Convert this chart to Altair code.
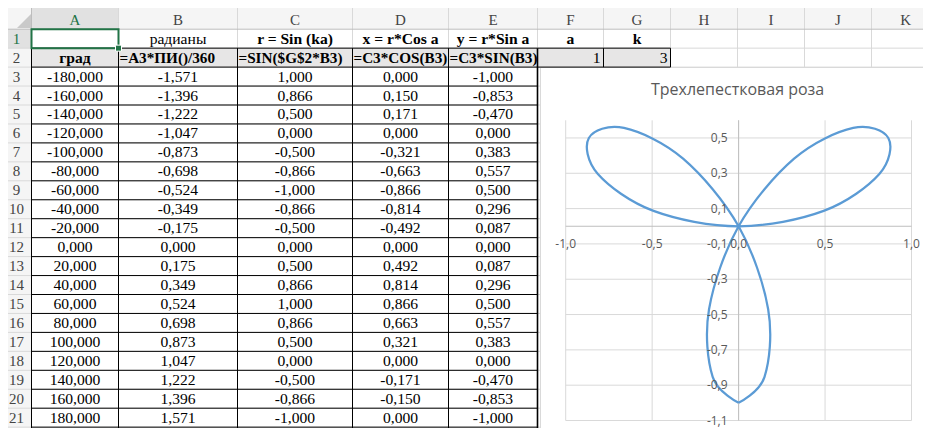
import altair as alt
import pandas as pd

# ---------------- data ----------------
grad = [-180, -160, -140, -120, -100, -80, -60, -40, -20, 0, 20, 40, 60, 80, 100, 120, 140, 160, 180]
radians = [-1.571, -1.396, -1.222, -1.047, -0.873, -0.698, -0.524, -0.349, -0.175, 0.000,
           0.175, 0.349, 0.524, 0.698, 0.873, 1.047, 1.222, 1.396, 1.571]
r_vals = [1.000, 0.866, 0.500, 0.000, -0.500, -0.866, -1.000, -0.866, -0.500, 0.000,
          0.500, 0.866, 1.000, 0.866, 0.500, 0.000, -0.500, -0.866, -1.000]
x_vals = [0.000, 0.150, 0.171, 0.000, -0.321, -0.663, -0.866, -0.814, -0.492, 0.000,
          0.492, 0.814, 0.866, 0.663, 0.321, 0.000, -0.171, -0.150, 0.000]
y_vals = [-1.000, -0.853, -0.470, 0.000, 0.383, 0.557, 0.500, 0.296, 0.087, 0.000,
          0.087, 0.296, 0.500, 0.557, 0.383, 0.000, -0.470, -0.853, -1.000]
param_a = 1
param_k = 3

col_letters = ["A", "B", "C", "D", "E", "F", "G", "H", "I", "J", "K"]
row1_texts = ["", "радианы", "r = Sin (ka)", "x = r*Cos a", "y = r*Sin a", "a", "k"]
row2_texts = ["град", "=A3*ПИ()/360", "=SIN($G$2*B3)", "=C3*COS(B3)", "=C3*SIN(B3)"]
chart_title = "Трехлепестковая роза"
x_ticks = [-1.0, -0.5, 0.0, 0.5, 1.0]
y_ticks = [0.5, 0.3, 0.1, -0.1, -0.3, -0.5, -0.7, -0.9, -1.1]

# ---------------- layout ----------------
W, H, M = 915, 420, 8
COL_EDGES = [0, 31.5, 118.5, 237.5, 352.5, 448.5, 537.5, 603.5, 670.5, 737.5, 804.5, 871.5, 940]
ROW_TOP, ROW_H = 29.2, 18.95


def v_of(ypx):
    return (ypx - ROW_TOP) / ROW_H


V0, V1 = v_of(M), v_of(M + H)
VB = 23.5

PX = alt.Scale(domain=[M, M + W], range=[0, W], nice=False, zero=False)
RV = alt.Scale(domain=[V0, V1], range=[0, H], nice=False, zero=False)
RX = alt.Scale(domain=[-1, 1], range=[565.7 - M, 911.5 - M], nice=False, zero=False)
RY = alt.Scale(domain=[-1.1, 0.6], range=[420.5 - M, 120.3 - M], nice=False, zero=False)

GREEN = "#217346"
SERIF = "Liberation Serif"
SANS = "Open Sans"
CELL_FS = 15.6


def cx(i):  # centre of spreadsheet column i (0 = row-header column)
    return (COL_EDGES[i] + COL_EDGES[i + 1]) / 2


def fmt3(v):
    return f"{v:.3f}".replace(".", ",")


def fmt1(v):
    return f"{v:.1f}".replace(".", ",")


# ---------------- backgrounds ----------------
rects = pd.DataFrame([
    dict(x0=0, x1=940, v0=V0, v1=0, fill="#f5f5f5"),
    dict(x0=0, x1=COL_EDGES[1], v0=0, v1=VB, fill="#f5f5f5"),
    dict(x0=COL_EDGES[1], x1=COL_EDGES[2], v0=V0, v1=0, fill="#e1e1e1"),
    dict(x0=0, x1=COL_EDGES[1], v0=0, v1=1, fill="#e1e1e1"),
    dict(x0=COL_EDGES[1], x1=COL_EDGES[8], v0=1, v1=2, fill="#e7e6e6"),
])
rect_layer = alt.Chart(rects).mark_rect(strokeWidth=0).encode(
    x=alt.X("x0:Q", scale=PX, axis=None), x2="x1:Q",
    y=alt.Y("v0:Q", scale=RV, axis=None), y2="v1:Q",
    color=alt.Color("fill:N", scale=None))

corner = alt.Chart(pd.DataFrame([dict(x=24, v=v_of(21))])).mark_point(
    shape="M1,-1L1,1L-1,1Z", filled=True, size=196, color="#c9c9c9", opacity=1).encode(
    x=alt.X("x:Q", scale=PX, axis=None), y=alt.Y("v:Q", scale=RV, axis=None))


def rule_layer(rows, color, width):
    df = pd.DataFrame(rows)
    return alt.Chart(df).mark_rule(color=color, strokeWidth=width).encode(
        x=alt.X("x0:Q", scale=PX, axis=None), x2="x1:Q",
        y=alt.Y("v0:Q", scale=RV, axis=None), y2="v1:Q")


# light grid
grid_rows = []
for e in COL_EDGES[1:-1]:
    grid_rows.append(dict(x0=e, x1=e, v0=V0, v1=VB))
for k in range(1, 24):
    grid_rows.append(dict(x0=0, x1=940, v0=k, v1=k))
grid_layer = rule_layer(grid_rows, "#d9d9d9", 1)
hdr_layer = rule_layer([dict(x0=0, x1=940, v0=0, v1=0),
                        dict(x0=COL_EDGES[1], x1=COL_EDGES[1], v0=V0, v1=VB)], "#bdbdbd", 1)

# chart area (covers cells)
chart_area = alt.Chart(pd.DataFrame([dict(x0=540.5, x1=960, v0=v_of(67.5), v1=VB)])).mark_rect(
    fill="white", stroke="#d9d9d9", strokeWidth=1).encode(
    x=alt.X("x0:Q", scale=PX, axis=None), x2="x1:Q",
    y=alt.Y("v0:Q", scale=RV, axis=None), y2="v1:Q")

# black borders
black_rows = []
for k in range(1, 24):
    black_rows.append(dict(x0=COL_EDGES[1], x1=COL_EDGES[6], v0=k, v1=k))
for e in COL_EDGES[1:6]:
    black_rows.append(dict(x0=e, x1=e, v0=1, v1=VB))
black_rows += [dict(x0=COL_EDGES[6], x1=COL_EDGES[8], v0=1, v1=1),
               dict(x0=COL_EDGES[6], x1=COL_EDGES[8], v0=2, v1=2),
               dict(x0=COL_EDGES[7], x1=COL_EDGES[7], v0=1, v1=2),
               dict(x0=COL_EDGES[8], x1=COL_EDGES[8], v0=1, v1=2)]
black_layer = rule_layer(black_rows, "#000000", 1)
thick_layer = rule_layer([dict(x0=COL_EDGES[6], x1=COL_EDGES[6], v0=1, v1=VB)], "#000000", 1.6)


# ---------------- texts ----------------
def text_layer(rows, align, weight, size, font, dx=0):
    df = pd.DataFrame(rows)
    return alt.Chart(df).mark_text(align=align, baseline="middle", fontWeight=weight,
                                   fontSize=size, font=font, dx=dx).encode(
        x=alt.X("x:Q", scale=PX, axis=None), y=alt.Y("v:Q", scale=RV, axis=None),
        text="t:N", color=alt.Color("c:N", scale=None))


hdr_rows = [dict(x=cx(i + 1), v=v_of(20), t=L, c=GREEN if L == "A" else "#444444")
            for i, L in enumerate(col_letters)]
rownum_rows = [dict(x=16.5, v=r - 0.5, t=str(r), c=GREEN if r == 1 else "#444444")
               for r in range(1, 22)]

center_normal = [dict(x=cx(2), v=0.5, t=row1_texts[1], c="#000")]
cols = [grad, radians, r_vals, x_vals, y_vals]
for j, col in enumerate(cols):
    for i, val in enumerate(col):
        center_normal.append(dict(x=cx(j + 1), v=i + 2.5, t=fmt3(val), c="#000"))

center_bold = [dict(x=cx(j + 1), v=0.5, t=row1_texts[j], c="#000") for j in range(2, 7)]
center_bold.append(dict(x=cx(1), v=1.5, t=row2_texts[0], c="#000"))
left_bold = [dict(x=COL_EDGES[j + 1] + 1.0, v=1.5, t=row2_texts[j], c="#000") for j in range(1, 5)]
right_normal = [dict(x=COL_EDGES[7] - 3, v=1.5, t=str(param_a), c="#000"),
                dict(x=COL_EDGES[8] - 3, v=1.5, t=str(param_k), c="#000")]

t_hdr = text_layer(hdr_rows, "center", "normal", 15, SERIF)
t_rown = text_layer(rownum_rows, "center", "normal", 15, SERIF)
t_cn = text_layer(center_normal, "center", "normal", CELL_FS, SERIF)
t_cb = text_layer(center_bold, "center", "bold", CELL_FS, SERIF)
t_lb = text_layer(left_bold, "left", "bold", 15.2, SERIF)
t_rn = text_layer(right_normal, "right", "normal", CELL_FS, SERIF)

# selection of A1
sel = alt.Chart(pd.DataFrame([dict(x0=COL_EDGES[1], x1=COL_EDGES[2], v0=0, v1=1)])).mark_rect(
    fill=None, stroke=GREEN, strokeWidth=2).encode(
    x=alt.X("x0:Q", scale=PX, axis=None), x2="x1:Q",
    y=alt.Y("v0:Q", scale=RV, axis=None), y2="v1:Q")
handle = alt.Chart(pd.DataFrame([dict(x=COL_EDGES[2], v=1)])).mark_square(
    size=36, color=GREEN, opacity=1, stroke="white", strokeWidth=1).encode(
    x=alt.X("x:Q", scale=PX, axis=None), y=alt.Y("v:Q", scale=RV, axis=None))

# ---------------- rose chart ----------------
vgrid = alt.Chart(pd.DataFrame(dict(x=x_ticks, y0=-1.1, y1=0.6))).mark_rule(
    color="#d9d9d9", strokeWidth=1).encode(
    x=alt.X("x:Q", scale=RX, axis=None), y=alt.Y("y0:Q", scale=RY, axis=None), y2="y1:Q")
hgrid = alt.Chart(pd.DataFrame(dict(y=y_ticks, x0=-1.0, x1=1.0))).mark_rule(
    color="#d9d9d9", strokeWidth=1).encode(
    y=alt.Y("y:Q", scale=RY, axis=None), x=alt.X("x0:Q", scale=RX, axis=None), x2="x1:Q")
xaxis = alt.Chart(pd.DataFrame(dict(y=[0.0], x0=[-1.0], x1=[1.0]))).mark_rule(
    color="#bfbfbf", strokeWidth=1).encode(
    y=alt.Y("y:Q", scale=RY, axis=None), x=alt.X("x0:Q", scale=RX, axis=None), x2="x1:Q")
yaxis = alt.Chart(pd.DataFrame(dict(x=[0.0], y0=[-1.1], y1=[0.6]))).mark_rule(
    color="#bfbfbf", strokeWidth=1).encode(
    x=alt.X("x:Q", scale=RX, axis=None), y=alt.Y("y0:Q", scale=RY, axis=None), y2="y1:Q")

rose_df = pd.DataFrame(dict(i=list(range(len(x_vals))), x=x_vals, y=y_vals))
rose = alt.Chart(rose_df).mark_line(color="#5b9bd5", strokeWidth=2.25, interpolate="cardinal").encode(
    x=alt.X("x:Q", scale=RX, axis=None), y=alt.Y("y:Q", scale=RY, axis=None),
    order=alt.Order("i:Q"))

ylab = alt.Chart(pd.DataFrame(dict(y=y_ticks, x=0.0, t=[fmt1(v) for v in y_ticks]))).mark_text(
    align="right", baseline="middle", dx=-11, font=SANS, fontSize=12, color="#595959").encode(
    x=alt.X("x:Q", scale=RX, axis=None), y=alt.Y("y:Q", scale=RY, axis=None), text="t:N")
xlab = alt.Chart(pd.DataFrame(dict(x=x_ticks, y=0.0, t=[fmt1(v) for v in x_ticks]))).mark_text(
    align="center", baseline="middle", dy=18, font=SANS, fontSize=12, color="#595959").encode(
    x=alt.X("x:Q", scale=RX, axis=None), y=alt.Y("y:Q", scale=RY, axis=None), text="t:N")
title = alt.Chart(pd.DataFrame(dict(x=[0.0], t=[chart_title]))).mark_text(
    align="center", baseline="middle", font=SANS, fontSize=16, color="#595959", dx=-1).encode(
    x=alt.X("x:Q", scale=RX, axis=None), y=alt.value(90 - M), text="t:N")

chart = alt.layer(
    rect_layer, corner, grid_layer, hdr_layer, chart_area, black_layer, thick_layer,
    t_hdr, t_rown, t_cn, t_cb, t_lb, t_rn, sel, handle,
    vgrid, hgrid, xaxis, yaxis, rose, ylab, xlab, title
).resolve_scale(x="independent", y="independent", color="independent").properties(
    width=W, height=H, padding=0, autosize=alt.AutoSizeParams(type="none")
).configure_view(stroke=None)

chart.save("out.html", embed_options={"renderer": "svg", "actions": False})
